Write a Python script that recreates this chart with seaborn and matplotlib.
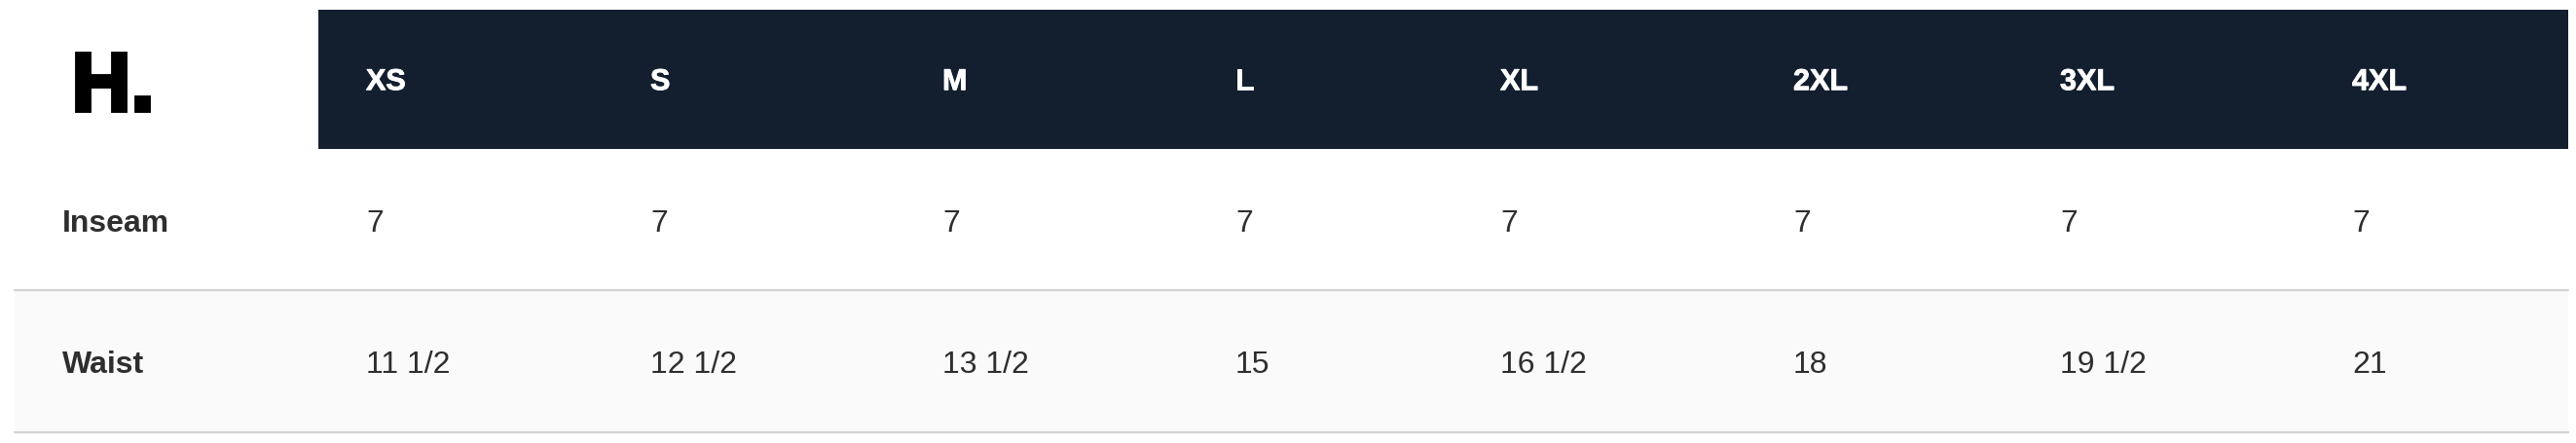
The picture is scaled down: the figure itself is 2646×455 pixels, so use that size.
import matplotlib
matplotlib.use("Agg")
import matplotlib.pyplot as plt
import matplotlib.patheffects as pe
import seaborn as sns
import pandas as pd

# size chart data
sizes = ["XS", "S", "M", "L", "XL", "2XL", "3XL", "4XL"]
row_labels = ["Inseam", "Waist"]
inseam = ["7", "7", "7", "7", "7", "7", "7", "7"]
waist = ["11 1/2", "12 1/2", "13 1/2", "15", "16 1/2", "18", "19 1/2", "21"]

table = pd.DataFrame([inseam, waist], index=row_labels, columns=sizes)

# layout in pixels (figure is 2646 x 456)
W, H = 2646, 456
col_x = [376, 668, 968, 1269, 1541, 1842, 2116, 2416]  # left edge of text in each column
label_x = 64
head_top, head_bot = 10.5, 154
row_edges = [154, 299, 445]
table_left, table_right = 15, 2638
cap = 23  # cap height in px, for baseline placement

sns.set_theme(style="white")
plt.rcParams["font.family"] = ["Liberation Sans", "DejaVu Sans"]

fig = plt.figure(figsize=(W / 100, H / 100), dpi=100)
ax = fig.add_axes([0, 0, 1, 1])
ax.set_xlim(0, W)
ax.set_ylim(H, 0)
ax.axis("off")

# header bar
ax.fill_between([col_x[0] - 49, table_right], head_top, head_bot, color="#131f2f", lw=0)
head_mid = (head_top + head_bot) / 2
for x, s in zip(col_x, sizes):
    ax.text(x, head_mid + 11, s, color="white", fontsize=22, fontweight="bold", va="baseline", ha="left",
            path_effects=[pe.withStroke(linewidth=0.6, foreground="white")])

# logo (thickened to look like the heavy condensed mark)
ax.text(label_x + 9, 114, "H.", color="black", fontsize=61, fontweight="bold", va="baseline", ha="left",
        path_effects=[pe.withStroke(linewidth=3.5, foreground="black", joinstyle="miter")])

# body rows
shade = ["white", "#fafafa"]
for i, name in enumerate(table.index):
    y0, y1 = row_edges[i], row_edges[i + 1]
    ax.fill_between([table_left, table_right], y0, y1, color=shade[i], lw=0)
    ax.plot([table_left, table_right], [y1, y1], color="#d2d2d2", lw=1.6)
    mid = (y0 + y1) / 2
    ax.text(label_x, mid + cap / 2, name, color="#2e2e2e", fontsize=23, fontweight="bold", va="baseline", ha="left")
    for x, v in zip(col_x, table.loc[name]):
        ax.text(x, mid + cap / 2, v, color="#2e2e2e", fontsize=23, va="baseline", ha="left")

fig.savefig("out.png", dpi=100, facecolor="white")
